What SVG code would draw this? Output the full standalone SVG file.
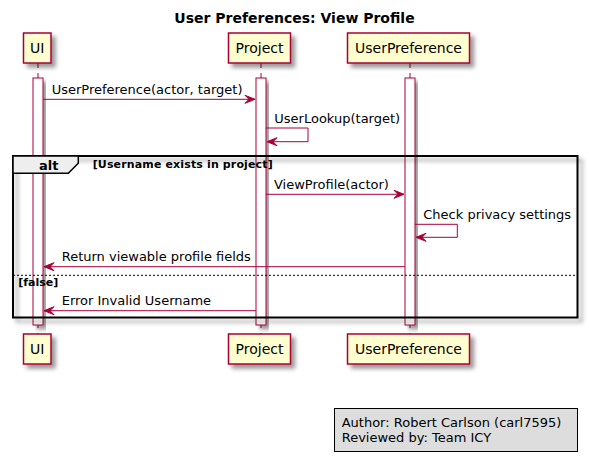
<svg xmlns="http://www.w3.org/2000/svg" width="589" height="462" viewBox="0 0 589 462">
<style>
text{font-family:"DejaVu Sans",Verdana,sans-serif;fill:#000}
.title{font-size:14px;font-weight:bold}
.pt{font-size:14px}
.msg{font-size:13px}
.b{font-weight:bold}
.part{fill:#FEFECE;stroke:#A80036;stroke-width:1.5}
.life{stroke:#A80036;stroke-width:1;stroke-dasharray:5,5}
.act{fill:#FFFFFF;stroke:#A80036;stroke-width:1}
.ln{stroke:#A80036;stroke-width:1;fill:none}
.ah{fill:#A80036;stroke:#A80036;stroke-width:1}
</style>
<defs>
<filter id="sh" x="-20%" y="-20%" width="150%" height="160%">
<feGaussianBlur in="SourceAlpha" stdDeviation="2"/>
<feOffset dx="4" dy="4" result="o"/>
<feComponentTransfer><feFuncA type="linear" slope="0.4"/></feComponentTransfer>
<feMerge><feMergeNode/><feMergeNode in="SourceGraphic"/></feMerge>
</filter>
</defs>
<rect width="589" height="462" fill="#FFFFFF"/>
<text class="title" x="294.5" y="23" text-anchor="middle">User Preferences: View Profile</text>

<g id="lifelines">
<line class="life" x1="38" y1="63" x2="38" y2="334"/>
<line class="life" x1="261" y1="63" x2="261" y2="334"/>
<line class="life" x1="410" y1="63" x2="410" y2="334"/>
</g>

<g id="activations">
<rect class="act" x="33" y="78" width="10" height="247" filter="url(#sh)"/>
<rect class="act" x="256" y="78" width="10" height="247" filter="url(#sh)"/>
<rect class="act" x="405" y="78" width="10" height="247" filter="url(#sh)"/>
</g>

<g id="alt-frame">
<rect x="13" y="156" width="564.5" height="161.5" fill="none" stroke="#000" stroke-width="2" filter="url(#sh)"/>
<path d="M13,156 L78.3,156 L78.3,163.3 L68.3,173.3 L13,173.3 Z" fill="#EEEEEE" stroke="#000" stroke-width="1.5"/>
<text class="msg b" x="39" y="170">alt</text>
<text class="b" style="font-size:11px" x="92.7" y="168" textLength="180" lengthAdjust="spacing">[Username exists in project]</text>
<line x1="13" y1="275.3" x2="577.5" y2="275.3" stroke="#000" stroke-width="1" stroke-dasharray="2,2"/>
<text class="b" style="font-size:11px" x="18.3" y="285.5" textLength="40" lengthAdjust="spacing">[false]</text>
</g>

<g id="participant-UI">
<rect class="part" x="23.5" y="33" width="27.5" height="30" filter="url(#sh)"/>
<text class="pt" x="37.3" y="53" text-anchor="middle">UI</text>
<rect class="part" x="23.5" y="334" width="27.5" height="30" filter="url(#sh)"/>
<text class="pt" x="37.3" y="354" text-anchor="middle">UI</text>
</g>
<g id="participant-Project">
<rect class="part" x="228.5" y="33" width="62" height="30" filter="url(#sh)"/>
<text class="pt" x="259.5" y="53" text-anchor="middle">Project</text>
<rect class="part" x="228.5" y="334" width="62" height="30" filter="url(#sh)"/>
<text class="pt" x="259.5" y="354" text-anchor="middle">Project</text>
</g>
<g id="participant-UserPreference">
<rect class="part" x="347.5" y="33" width="122" height="30" filter="url(#sh)"/>
<text class="pt" x="408.5" y="53" text-anchor="middle">UserPreference</text>
<rect class="part" x="347.5" y="334" width="122" height="30" filter="url(#sh)"/>
<text class="pt" x="408.5" y="354" text-anchor="middle">UserPreference</text>
</g>

<g id="connectors">
<line class="ln" x1="43" y1="99.3" x2="255" y2="99.3"/>
<polygon class="ah" points="245,95.3 255,99.3 245,103.3 249,99.3"/>
<text class="msg" x="51.7" y="94">UserPreference(actor, target)</text>

<polyline class="ln" points="266,128 308,128 308,141.7 267,141.7"/>
<polygon class="ah" points="277,137.7 267,141.7 277,145.7 273,141.7"/>
<text class="msg" x="274.3" y="123">UserLookup(target)</text>

<line class="ln" x1="266" y1="194.3" x2="404" y2="194.3"/>
<polygon class="ah" points="394,190.3 404,194.3 394,198.3 398,194.3"/>
<text class="msg" x="274" y="189">ViewProfile(actor)</text>

<polyline class="ln" points="415,224.3 457.3,224.3 457.3,237.3 416,237.3"/>
<polygon class="ah" points="426,233.3 416,237.3 426,241.3 422,237.3"/>
<text class="msg" x="423.3" y="218.5">Check privacy settings</text>

<line class="ln" x1="405" y1="266.7" x2="44" y2="266.7"/>
<polygon class="ah" points="54,262.7 44,266.7 54,270.7 50,266.7"/>
<text class="msg" x="61.7" y="261">Return viewable profile fields</text>

<line class="ln" x1="256" y1="310.7" x2="44" y2="310.7"/>
<polygon class="ah" points="54,306.7 44,310.7 54,314.7 50,310.7"/>
<text class="msg" x="61.7" y="305">Error Invalid Username</text>
</g>

<g id="note">
<rect x="334.5" y="408.5" width="243" height="43" fill="#DDDDDD" stroke="#000" stroke-width="1"/>
<text class="msg" x="341.7" y="427">Author: Robert Carlson (carl7595)</text>
<text class="msg" x="341.7" y="442">Reviewed by: Team ICY</text>
</g>
</svg>
